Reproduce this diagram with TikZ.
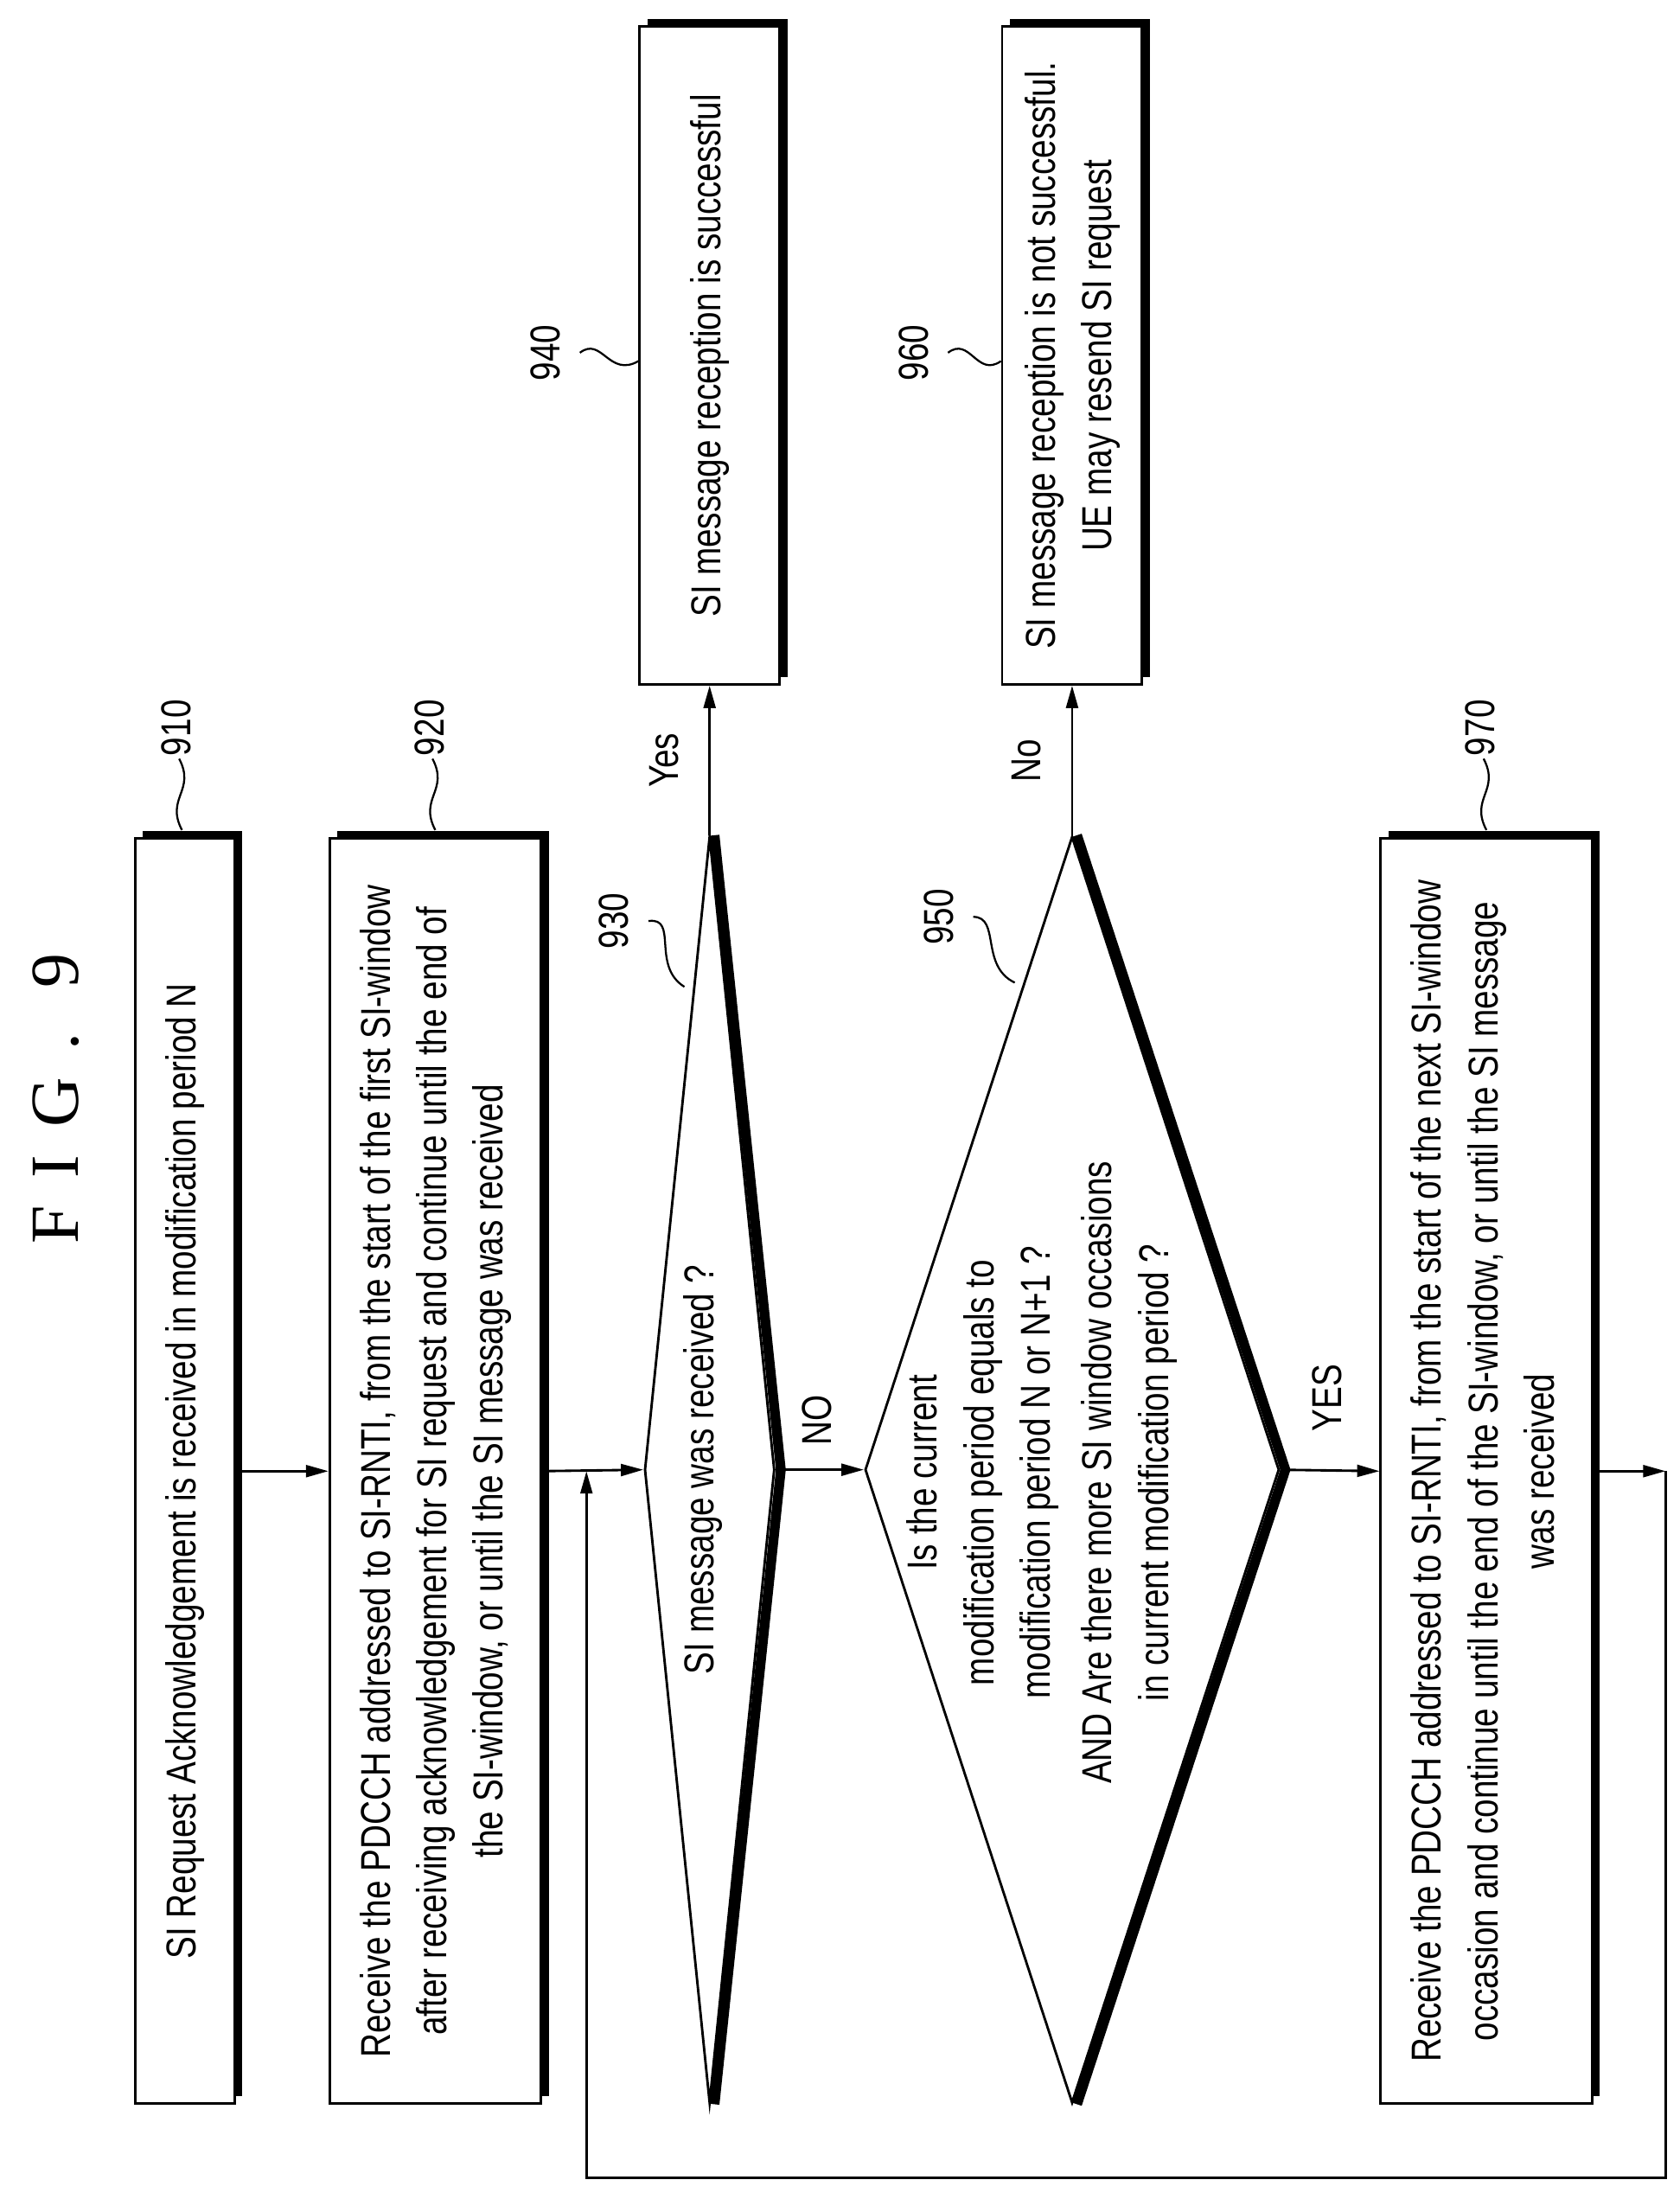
\documentclass[tikz,border=0pt]{standalone}
\usepackage{fontspec}
\setmainfont{Liberation Sans}[FakeStretch=0.8]
\newfontfamily\figfont{Liberation Serif}[LetterSpace=40]
\usetikzlibrary{arrows.meta, positioning, shapes.geometric}
\tikzset{
  box/.style = {rectangle, draw, fill=white, inner sep=0pt, line width=1pt,
                preaction={fill=black, transform canvas={xshift=0.11cm, yshift=0.11cm}}},
  decision/.style = {diamond, draw, inner sep=0pt, line width=1pt},
  heavy/.style = {line width=4pt, line join=round},
  flow/.style = {draw, line width=1pt, -{Triangle[length=3.2mm, width=1.7mm]}},
  ref/.style = {inner sep=1pt},
  wave/.style = {draw, line width=0.8pt}
}
\newcommand{\vtext}[1]{\rotatebox{90}{\fontsize{17}{23}\selectfont\begin{tabular}{@{}c@{}}#1\end{tabular}}}
\begin{document}
\begin{tikzpicture}[x=0.02cm, y=-0.02cm]
    \useasboundingbox (0,0) rectangle (1200,1571);
    % Title
    \node (title) at (40,785) {\rotatebox{90}{\figfont\fontsize{28}{30}\selectfont FIG.~9}};

    % Nodes
    \node [box, minimum width=1.42cm, minimum height=18.08cm] (b910) at (132,1051)
        {\vtext{SI Request Acknowledgement is received in modification period N}};
    \node [box, minimum width=3.02cm, minimum height=18.08cm] (b920) at (311,1051)
        {\vtext{Receive the PDCCH addressed to SI-RNTI, from the start of the first SI-window\\
        after receiving acknowledgement for SI request and continue until the end of\\
        the SI-window, or until the SI message was received}};
    \node [decision, minimum width=1.86cm, minimum height=18.1cm] (d930) at (507,1050) {};
    \node (q930) at (502,1050) {\vtext{SI message was received ?}};
    \node [decision, minimum width=5.92cm, minimum height=18.1cm] (d950) at (766,1050) {};
    \node (q950) at (744,1052) {\vtext{Is the current\\ modification period equals to\\
        modification period N or N+1 ?\\[2pt] AND Are there more SI window occasions\\
        in current modification period ?}};
    \node [box, minimum width=3.02cm, minimum height=18.08cm] (b970) at (1062,1051)
        {\vtext{Receive the PDCCH addressed to SI-RNTI, from the start of the next SI-window\\
        occasion and continue until the end of the SI-window, or until the SI message\\
        was received}};
    \node [box, minimum width=2cm, minimum height=9.4cm] (b940) at (507,254)
        {\vtext{SI message reception is successful}};
    \node [box, minimum width=2cm, minimum height=9.4cm] (b960) at (766,254)
        {\vtext{SI message reception is not successful.\\ UE may resend SI request}};

    % Heavy edges of the decisions
    \draw [heavy] ([xshift=2pt]d930.north) -- ([xshift=2pt]d930.east) -- ([xshift=2pt]d930.south);
    \draw [heavy] ([xshift=2pt]d950.north) -- ([xshift=2pt]d950.east) -- ([xshift=2pt]d950.south);

    % Reference numerals
    \node [ref] (l910) at (128,520) {\vtext{910}};
    \node [ref] (l920) at (309,520) {\vtext{920}};
    \node [ref] (l970) at (1060,520) {\vtext{970}};
    \node [ref] (l940) at (392,252) {\vtext{940}};
    \node [ref] (l960) at (655,252) {\vtext{960}};
    \node [ref] (l930) at (441,658) {\vtext{930}};
    \node [ref] (l950) at (673,655) {\vtext{950}};
    \draw [wave] (l910.south) .. controls (140,565) and (118,570) .. (130,593);
    \draw [wave] (l920.south) .. controls (321,565) and (299,570) .. (311,593);
    \draw [wave] (l970.south) .. controls (1072,565) and (1050,570) .. (1062,593);
    \draw [wave] (l940.east) .. controls (430,240) and (435,270) .. (b940.west |- 0,258);
    \draw [wave] (l960.east) .. controls (693,240) and (698,270) .. (b960.west |- 0,258);
    \draw [wave] (l930.east) .. controls (485,655) and (465,690) .. (489,705);
    \draw [wave] (l950.east) .. controls (715,655) and (700,690) .. (725,702);

    % Lines
    \coordinate (ret) at (1190,1051);
    \coordinate (join) at (419,1051);
    \path [flow] (b910.east) -- (b920.west);
    \path [flow] (b920.east) -- (d930.west);
    \path [flow] (d930.east) -- node [above=6pt] {\vtext{NO}} (d950.west);
    \path [flow] (d950.east) -- node [above=12pt] {\vtext{YES}} (b970.west);
    \path [flow] (d930.north) -- node [left=2pt] {\vtext{Yes}} (b940.south);
    \path [flow] (d950.north) -- node [left=2pt] {\vtext{No}} (b960.south);
    \path [flow] (b970.east) -- (ret);
    \path [flow] (ret) -- (1190,1556) -| (join);
\end{tikzpicture}
\end{document}
